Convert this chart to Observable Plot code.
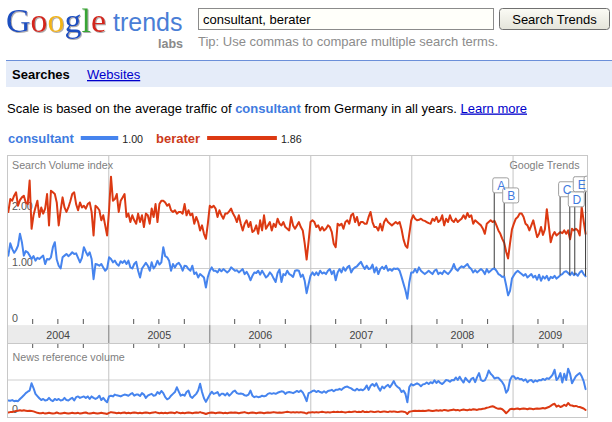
<!DOCTYPE html>
<html><head><meta charset="utf-8">
<script src="https://cdn.jsdelivr.net/npm/d3@7"></script>
<script src="https://cdn.jsdelivr.net/npm/@observablehq/plot@0.6"></script>
<style>
html,body{margin:0;padding:0;background:#fff;}
body{width:612px;height:422px;overflow:hidden;position:relative;font-family:"Liberation Sans",Arial,sans-serif;}
#head{position:absolute;left:0;top:0;display:block;}
#main{position:absolute;left:0;top:155px;}
#news{position:absolute;left:0;top:343px;}
#main svg,#news svg{display:block;}
</style></head>
<body>
<svg id="head" width="612" height="155" xmlns="http://www.w3.org/2000/svg" font-family="'Liberation Sans', Arial, sans-serif">
  <defs>
    <linearGradient id="btn" x1="0" y1="0" x2="0" y2="1">
      <stop offset="0" stop-color="#fbfbf5"/><stop offset="1" stop-color="#e4e4da"/>
    </linearGradient>
    <filter id="bevel" x="-5%" y="-5%" width="115%" height="120%">
      <feDropShadow dx="1" dy="1" stdDeviation="0.6" flood-color="#999" flood-opacity="0.8"/>
    </filter>
  </defs>
  <text x="6" y="32" font-family="'Liberation Serif','Times New Roman',serif" font-size="34" filter="url(#bevel)"><tspan fill="#1c4fc0">G</tspan><tspan fill="#d3261a">o</tspan><tspan fill="#f1b413">o</tspan><tspan fill="#1c4fc0">g</tspan><tspan fill="#38a534">l</tspan><tspan fill="#d3261a">e</tspan></text>
  <text x="113" y="31" font-size="25" fill="#4a7ed6">trends</text>
  <text x="183" y="48" font-size="12.5" font-weight="bold" fill="#8a8a8a" text-anchor="end">labs</text>
  <rect x="198.5" y="8.5" width="295" height="21" fill="#fffffa" stroke="#8b8b8b"/>
  <text x="203" y="24" font-size="13" fill="#000">consultant, berater</text>
  <rect x="499.5" y="8.5" width="110" height="21" rx="3" fill="url(#btn)" stroke="#707070"/>
  <text x="554.5" y="24" font-size="13" text-anchor="middle" fill="#000">Search Trends</text>
  <text x="198" y="46" font-size="13" fill="#8c8c8c">Tip: Use commas to compare multiple search terms.</text>
  <rect x="6" y="60" width="606" height="1" fill="#6b8fd9"/>
  <rect x="6" y="61" width="606" height="26" fill="#e5ecf9"/>
  <text x="12" y="79" font-size="13" font-weight="bold" fill="#000">Searches</text>
  <text x="87" y="79" font-size="13" fill="#0000cc" text-decoration="underline">Websites</text>
  <text x="7" y="112.5" font-size="13" fill="#000">Scale is based on the average traffic of <tspan font-weight="bold" fill="#3f7be0">consultant</tspan> from Germany in all years. <tspan fill="#0000cc" text-decoration="underline">Learn more</tspan></text>
  <g id="legend"></g>
</svg>
<div id="main"></div>
<div id="news"></div>
<script>
// ---------- data ----------
const seriesNames = ["consultant", "berater"];
const seriesAverages = [1.00, 1.86];
const seriesColors = ["#4684ee", "#dc3912"];
const seriesTextColors = ["#3f7be0", "#cc3a1a"];
const years = [2004, 2005, 2006, 2007, 2008, 2009];
const yTickValues = [0, 1, 2];
const yTickLabels = ["0", "1.00", "2.00"];
const newsTickValues = [0];
const newsTickLabels = ["0"];

// weekly Search Volume index, one row per year (weeks starting 2004-01-04)
const consultantSearch = [
  [1.23,1.45,1.35,1.28,1.33,1.41,1.62,1.47,1.23,1.31, 1.29,1.23,1.17,1.22,1.14,1.19,1.17,1.20,1.23,1.08, 1.17,1.16,1.20,1.38,1.47,1.16,1.05,1.00,1.20,1.23, 1.26,1.22,1.25,1.29,1.26,1.27,1.19,1.11,1.19,1.38, 1.30,1.23,1.29,1.17,0.81,1.08,1.07,1.05,1.08,1.02, 0.96,1.00],
  [1.20,1.17,1.11,1.14,1.08,1.05,1.13,1.10,1.14,1.08, 1.14,1.02,1.00,1.08,1.12,0.96,0.84,1.00,1.05,1.10, 1.05,0.96,1.11,1.00,1.05,1.14,1.07,1.11,1.38,1.22, 1.20,1.14,0.96,1.08,1.02,1.08,1.10,1.05,0.96,1.05, 1.04,0.99,0.96,1.05,0.90,0.93,0.84,0.90,0.87,0.84, 0.66,0.85],
  [0.96,1.02,0.96,0.96,0.93,0.99,0.95,0.99,0.96,0.93, 0.96,1.02,0.99,0.96,0.97,0.93,0.96,0.99,0.90,0.94, 0.88,0.79,0.87,0.93,0.92,0.96,0.89,0.96,0.90,0.84, 0.87,0.93,0.89,0.82,0.76,0.92,0.98,0.76,0.90,0.88, 0.96,0.90,0.88,0.85,0.96,0.97,0.96,0.85,0.89,0.78, 0.56,0.72],
  [0.87,0.93,0.88,0.93,0.88,0.96,0.91,0.93,0.90,0.96, 0.99,0.90,0.96,0.79,0.93,0.99,0.93,1.02,0.96,1.02, 1.05,0.93,0.99,1.02,1.04,1.08,1.12,1.05,0.99,1.05, 0.99,1.00,1.07,0.93,1.02,0.90,0.99,1.03,0.99,1.05, 0.96,0.99,0.96,1.00,0.99,1.00,0.96,0.85,0.73,0.61, 0.46,0.75],
  [0.93,0.93,0.99,0.93,1.02,0.96,0.93,0.90,0.93,0.96, 0.93,0.90,0.96,0.98,0.90,0.93,0.90,0.96,0.93,0.90, 0.94,0.99,1.08,0.99,0.96,1.01,1.04,1.02,1.05,1.08, 1.02,0.99,0.93,0.97,0.93,0.96,0.99,0.96,0.90,0.99, 0.93,0.96,0.99,1.00,0.96,0.90,0.88,0.85,0.86,0.70, 0.52,0.60],
  [0.82,0.88,0.93,0.96,0.93,0.90,0.87,0.90,0.84,0.87, 0.90,0.84,0.87,0.80,0.89,0.78,0.86,0.82,0.87,0.79, 0.85,0.83,0.87,0.82,0.85,0.88,0.90,0.94,0.95,0.92, 0.88,0.93,0.88,0.91,0.87,0.93,0.96,0.90,0.86]
];
const beraterSearch = [
  [2.01,2.24,2.21,2.30,2.36,2.12,2.22,2.27,2.30,2.18, 2.15,2.57,1.71,1.95,2.09,2.21,1.92,2.09,1.98,2.07, 2.33,1.77,2.39,2.36,2.33,2.18,1.77,2.04,2.27,2.09, 2.01,2.09,2.20,2.33,2.36,2.15,2.04,2.18,2.09,2.12, 2.07,2.15,2.18,2.01,1.59,2.12,2.09,2.04,1.86,1.95, 1.77,1.59],
  [2.04,2.64,2.21,2.24,2.33,2.01,2.21,2.27,2.33,1.92, 1.98,1.83,1.95,1.86,1.80,1.98,1.83,1.95,1.74,1.98, 1.95,1.80,2.07,1.92,2.15,1.83,2.15,2.21,2.21,2.18, 2.12,2.15,2.04,2.01,2.04,1.98,2.01,2.01,1.98,2.15, 1.95,2.04,1.95,1.98,1.80,1.92,1.83,1.68,1.77,1.62, 1.53,1.80],
  [2.12,2.09,2.12,2.07,1.92,2.04,1.95,1.89,1.98,1.98, 2.02,2.07,1.98,1.92,1.83,1.95,1.80,1.68,1.80,1.86, 1.74,1.83,1.65,1.68,1.77,1.62,1.86,1.68,1.95,1.71, 1.77,1.83,1.68,1.80,1.74,1.89,1.80,1.77,1.83,1.74, 1.71,1.68,1.92,1.77,1.71,1.77,1.83,1.74,1.68,1.45, 1.16,1.48],
  [1.83,1.86,1.83,1.74,1.77,1.68,1.74,1.68,1.71,1.77, 1.74,1.65,1.44,1.38,1.80,1.77,1.80,1.71,1.83,1.86, 1.80,1.95,1.98,1.83,1.92,1.77,1.83,1.83,1.80,1.80, 1.92,2.01,1.83,1.74,1.74,1.68,1.80,1.68,1.83,1.89, 1.83,1.80,1.77,1.80,1.83,1.80,1.83,1.70,1.52,1.41, 1.37,1.62],
  [1.86,1.95,1.89,1.86,1.87,1.89,1.86,1.85,1.83,1.81, 1.80,1.89,1.85,1.92,1.83,1.86,1.95,1.77,1.89,1.83, 1.95,1.86,1.83,1.89,1.83,1.86,1.89,1.95,1.89,1.99, 1.92,1.95,1.80,1.86,1.83,1.80,1.77,1.71,1.62,1.80, 1.83,1.86,1.83,1.85,1.77,1.68,1.62,1.53,1.46,1.30, 1.18,1.45],
  [1.70,1.80,1.89,1.92,1.98,1.98,1.92,1.80,1.77,1.68, 1.77,1.86,1.71,1.56,1.62,1.74,1.60,1.70,2.06,1.77, 1.47,1.59,1.65,1.59,1.62,1.65,1.63,1.68,1.62,1.68, 1.52,1.71,1.68,1.71,1.68,1.59,2.10,1.85,1.62]
];
// weekly News reference volume
const consultantNews = [
  [0.44,0.43,0.45,0.42,0.43,0.42,0.48,0.53,0.58,0.64, 0.68,0.71,0.91,0.78,0.62,0.56,0.50,0.45,0.48,0.44, 0.45,0.51,0.45,0.42,0.48,0.45,0.48,0.44,0.45,0.51, 0.45,0.44,0.48,0.51,0.44,0.53,0.55,0.51,0.53,0.55, 0.51,0.55,0.48,0.55,0.51,0.48,0.51,0.57,0.45,0.51, 0.44,0.39],
  [0.55,0.57,0.55,0.60,0.58,0.57,0.55,0.58,0.60,0.59, 0.57,0.61,0.64,0.57,0.60,0.60,0.56,0.64,0.60,0.51, 0.57,0.60,0.62,0.57,0.58,0.67,0.62,0.70,0.64,0.53, 0.47,0.50,0.57,0.62,0.67,0.80,0.68,0.57,0.60,0.57, 0.67,0.71,0.55,0.51,0.57,0.62,0.71,0.90,0.67,0.50, 0.40,0.50],
  [0.60,0.68,0.62,0.64,0.67,0.57,0.62,0.62,0.58,0.64, 0.57,0.62,0.68,0.71,0.64,0.62,0.63,0.62,0.58,0.57, 0.60,0.71,0.57,0.53,0.55,0.53,0.54,0.57,0.55,0.57, 0.62,0.64,0.62,0.64,0.62,0.65,0.67,0.69,0.68,0.62, 0.66,0.67,0.66,0.64,0.67,0.70,0.67,0.71,0.66,0.55, 0.42,0.64],
  [0.66,0.70,0.71,0.67,0.70,0.67,0.65,0.69,0.65,0.70, 0.71,0.73,0.69,0.73,0.73,0.76,0.73,0.78,0.81,0.82, 0.79,0.77,0.73,0.71,0.76,0.72,0.74,0.72,0.76,0.85, 0.73,0.84,0.89,0.83,0.91,0.79,0.71,0.82,0.77,0.83, 0.87,0.80,0.88,0.97,0.86,0.81,0.77,0.67,0.71,0.62, 0.39,0.81],
  [0.89,0.85,0.88,0.91,0.88,0.83,0.88,0.89,0.93,0.89, 0.94,0.91,0.99,0.92,0.97,0.92,0.89,0.94,1.00,0.99, 0.95,1.00,0.99,1.07,1.00,1.09,1.00,0.93,1.06,0.99, 0.94,1.03,1.06,0.94,1.08,1.19,1.00,0.97,0.99,1.10, 1.26,1.17,1.12,1.04,1.06,1.06,1.00,0.94,0.85,0.65, 0.73,1.00],
  [1.10,1.10,1.03,1.06,1.02,1.03,0.98,1.02,0.94,0.99, 1.00,0.94,0.99,0.96,1.00,0.99,1.03,1.00,1.05,1.03, 1.08,1.15,1.28,1.00,1.06,1.19,0.93,1.17,1.00,1.31, 1.17,0.91,1.01,1.10,1.15,1.19,1.10,0.97,0.75]
];
const beraterNews = [
  [0.11,0.12,0.12,0.14,0.15,0.16,0.17,0.16,0.17,0.16, 0.15,0.16,0.15,0.14,0.12,0.10,0.09,0.09,0.10,0.08, 0.09,0.10,0.09,0.08,0.09,0.11,0.09,0.08,0.09,0.10, 0.09,0.08,0.09,0.10,0.09,0.09,0.10,0.08,0.09,0.10, 0.11,0.09,0.08,0.09,0.10,0.09,0.08,0.09,0.10,0.09, 0.08,0.07],
  [0.10,0.12,0.11,0.10,0.09,0.10,0.09,0.10,0.11,0.09, 0.10,0.09,0.10,0.11,0.10,0.09,0.10,0.09,0.10,0.11, 0.10,0.09,0.10,0.11,0.12,0.10,0.09,0.10,0.09,0.10, 0.09,0.10,0.11,0.10,0.09,0.12,0.10,0.09,0.10,0.09, 0.10,0.11,0.10,0.09,0.10,0.11,0.10,0.12,0.10,0.09, 0.07,0.09],
  [0.10,0.11,0.10,0.09,0.10,0.11,0.10,0.09,0.10,0.09, 0.10,0.11,0.10,0.11,0.10,0.09,0.10,0.11,0.12,0.10, 0.09,0.10,0.11,0.10,0.09,0.10,0.11,0.10,0.09,0.10, 0.11,0.10,0.11,0.12,0.11,0.10,0.11,0.10,0.11,0.12, 0.13,0.12,0.11,0.12,0.11,0.12,0.11,0.12,0.11,0.10, 0.08,0.11],
  [0.11,0.12,0.11,0.12,0.11,0.12,0.13,0.12,0.11,0.12, 0.11,0.12,0.13,0.12,0.13,0.12,0.13,0.12,0.11,0.12, 0.13,0.12,0.13,0.14,0.12,0.13,0.12,0.15,0.12,0.13, 0.12,0.14,0.13,0.12,0.13,0.14,0.12,0.13,0.14,0.13, 0.12,0.14,0.13,0.14,0.13,0.12,0.13,0.14,0.13,0.12, 0.07,0.13],
  [0.14,0.15,0.16,0.15,0.16,0.15,0.16,0.15,0.16,0.17, 0.16,0.15,0.16,0.17,0.16,0.17,0.16,0.18,0.17,0.16, 0.17,0.18,0.19,0.17,0.18,0.16,0.18,0.19,0.18,0.17, 0.19,0.18,0.20,0.19,0.18,0.20,0.20,0.21,0.22,0.24, 0.25,0.27,0.28,0.26,0.23,0.21,0.22,0.20,0.15,0.09, 0.14,0.20],
  [0.21,0.20,0.21,0.22,0.20,0.21,0.22,0.21,0.20,0.22, 0.21,0.20,0.21,0.22,0.21,0.22,0.23,0.22,0.24,0.26, 0.29,0.33,0.35,0.27,0.30,0.26,0.28,0.32,0.29,0.37, 0.31,0.30,0.28,0.29,0.27,0.26,0.24,0.22,0.18]
];
// news flags
const flagLetters = ["A", "B", "C", "D", "E", "F"];
const flagDates = ["2008-10-25", "2008-11-30", "2009-06-20", "2009-07-25", "2009-08-12", "2009-09-20"];
const flagLevels = [2.61, 2.43, 2.54, 2.36, 2.63, 2.64];

// ---------- build ----------
const FONT = "'Liberation Sans', Arial, Helvetica, sans-serif";
const DAY = 864e5, WEEK = 7 * DAY;
const firstWeek = Date.UTC(2004, 0, 4);
function weekly(byYear) {
  const rows = [];
  byYear.forEach((vals, yi) => vals.forEach((v, k) => rows.push({date: new Date(firstWeek + (52 * yi + k) * WEEK), value: v})));
  return rows;
}
const cS = weekly(consultantSearch), bS = weekly(beraterSearch);
const cN = weekly(consultantNews), bN = weekly(beraterNews);

const xDomain = [new Date(Date.UTC(2004, 0, 1)), new Date(Date.UTC(2009, 8, 27))];
const yearStarts = years.slice(1).map(y => new Date(Date.UTC(y, 0, 1)));
const quarterTicks = d3.utcMonth.every(3).range(xDomain[0], xDomain[1]).filter(d => d.getUTCMonth() !== 0);
const yearSpans = years.map(y => {
  const a = Math.max(Date.UTC(y, 0, 1), +xDomain[0]);
  const b = Math.min(Date.UTC(y + 1, 0, 1), +xDomain[1]);
  return {label: String(y), mid: new Date((a + b) / 2)};
});
const flags = flagLetters.map((letter, i) => {
  const date = new Date(flagDates[i] + "T00:00:00Z");
  const near = d3.least(cS, r => Math.abs(r.date - date));
  return {letter, date, top: flagLevels[i], base: near.value};
});

// legend (bar length proportional to the average)
(function () {
  const g = d3.select("#legend");
  let cx = 8;
  seriesNames.forEach((name, i) => {
    const t = g.append("text").attr("x", cx).attr("y", 142.5).attr("font-size", 13)
      .attr("font-weight", "bold").attr("fill", seriesTextColors[i]).text(name);
    const w = t.node().getComputedTextLength();
    const bx = cx + w + 7, bw = seriesAverages[i] * 37.5;
    g.append("rect").attr("x", bx).attr("y", 136).attr("width", bw).attr("height", 4).attr("fill", seriesColors[i]);
    const l = g.append("text").attr("x", bx + bw + 4).attr("y", 142.5).attr("font-size", 10.7)
      .attr("fill", "#222").text(d3.format(".2f")(seriesAverages[i]));
    cx = bx + bw + 4 + l.node().getComputedTextLength() + 13;
  });
})();

const bandTop = -0.02, bandBottom = -0.345, bandMid = -0.19;
const tickLen = 5 / 56;
const flagH = 15 / 56;

const main = Plot.plot({
  width: 612, height: 188,
  marginTop: 0, marginRight: 25, marginBottom: 0, marginLeft: 7,
  style: {fontFamily: FONT, background: "white", overflow: "visible"},
  x: {type: "utc", domain: xDomain, range: [7, 587], axis: null},
  y: {type: "linear", domain: [0, 2], range: [169, 57], axis: null},
  marks: [
    Plot.rect([{a: xDomain[0], b: xDomain[1]}], {x1: "a", x2: "b", y1: bandTop, y2: bandBottom, fill: "#ebebeb"}),
    Plot.ruleY([1, 2], {stroke: "#cfcfcf"}),
    Plot.ruleX(yearStarts, {stroke: "#c4c4c4"}),
    Plot.ruleX(yearStarts, {y1: bandTop, y2: bandBottom, stroke: "#8a8a8a"}),
    Plot.ruleX(quarterTicks, {y1: 0, y2: tickLen, stroke: "#555"}),
    Plot.text(yTickValues, {y: d => d, text: (d, i) => yTickLabels[i], frameAnchor: "left", textAnchor: "start", lineAnchor: "bottom", dx: 4.5, dy: -3, fill: "#555", fontSize: 10.7}),
    Plot.text(["Search Volume index"], {text: d => d, frameAnchor: "top-left", textAnchor: "start", lineAnchor: "top", dx: 4.5, dy: 6, fill: "#808080", fontSize: 10.7}),
    Plot.text(["Google Trends"], {text: d => d, frameAnchor: "top-right", textAnchor: "end", lineAnchor: "top", dx: -8, dy: 6, fill: "#808080", fontSize: 10.7}),
    Plot.text(yearSpans, {x: "mid", y: bandMid, text: "label", fill: "#444", fontSize: 10.7}),
    Plot.line(bS, {x: "date", y: "value", stroke: seriesColors[1], strokeWidth: 2, strokeLinejoin: "round"}),
    Plot.line(cS, {x: "date", y: "value", stroke: seriesColors[0], strokeWidth: 2, strokeLinejoin: "round"}),
    Plot.ruleX(flags, {x: "date", y1: "base", y2: "top", stroke: "#3a3a3a"}),
    Plot.rect(flags, {x1: "date", x2: "date", y1: "top", y2: d => d.top - flagH, insetLeft: -1, insetRight: -15, fill: "white", stroke: "#a0a0a0", rx: 2, clip: true}),
    Plot.text(flags, {x: "date", y: d => d.top - flagH / 2, text: "letter", dx: 7, fill: "#3f7be0", fontSize: 12, clip: true}),
    Plot.frame({stroke: "#c8c8c8"})
  ]
});
document.getElementById("main").appendChild(main);

const news = Plot.plot({
  width: 612, height: 79,
  marginTop: 0, marginRight: 25, marginBottom: 5, marginLeft: 7,
  style: {fontFamily: FONT, background: "white", overflow: "visible"},
  x: {type: "utc", domain: xDomain, range: [7, 587], axis: null},
  y: {type: "linear", domain: [0, 2], range: [73, 0], axis: null},
  marks: [
    Plot.ruleY([1], {stroke: "#cfcfcf"}),
    Plot.ruleX(yearStarts, {stroke: "#c4c4c4"}),
    Plot.ruleX(quarterTicks, {y1: 2, y2: 2 - 5 / 36.5, stroke: "#555"}),
    Plot.text(["News reference volume"], {text: d => d, frameAnchor: "top-left", textAnchor: "start", lineAnchor: "top", dx: 5, dy: 9.5, fill: "#808080", fontSize: 10.7}),
    Plot.text(newsTickValues, {y: d => d, text: (d, i) => newsTickLabels[i], frameAnchor: "left", textAnchor: "start", lineAnchor: "bottom", dx: 4.5, dy: -4, fill: "#555", fontSize: 10.7}),
    Plot.line(bN, {x: "date", y: "value", stroke: seriesColors[1], strokeWidth: 2, strokeLinejoin: "round"}),
    Plot.line(cN, {x: "date", y: "value", stroke: seriesColors[0], strokeWidth: 2, strokeLinejoin: "round"}),
    Plot.frame({stroke: "#c8c8c8"})
  ]
});
document.getElementById("news").appendChild(news);
</script>
</body></html>
